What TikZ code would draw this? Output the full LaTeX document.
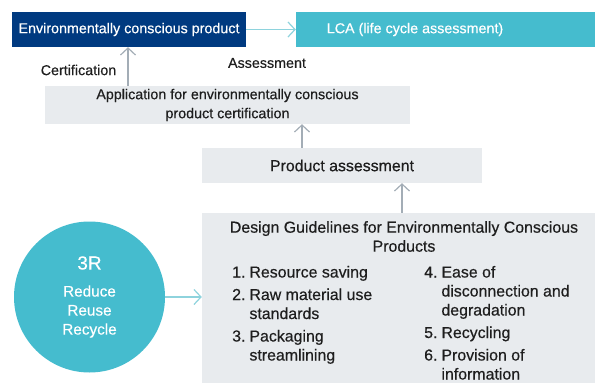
\documentclass[tikz,border=0pt]{standalone}
\usepackage{fontspec}
\setmainfont{Liberation Sans}
\newfontfamily\diagfont{Liberation Sans}[FakeBold=0.4]
\usetikzlibrary{arrows.meta}

\definecolor{envblue}{HTML}{003A80}
\definecolor{lcateal}{HTML}{45BCCE}
\definecolor{boxgrey}{HTML}{E8EBEE}
\definecolor{arrgrey}{HTML}{A3ADB6}
\definecolor{arrteal}{HTML}{8ED3DD}
\definecolor{txtdark}{HTML}{1E1E1E}

\begin{document}
\begin{tikzpicture}[x=1pt, y=-1pt,
	box/.style={rectangle, inner sep=0pt, font=\diagfont\fontsize{14.3}{19}\selectfont},
	greybox/.style={box, fill=boxgrey, text=txtdark},
	label/.style={font=\diagfont\fontsize{14.3}{19}\selectfont, text=txtdark, inner sep=0pt},
	biglabel/.style={label, font=\diagfont\fontsize{15.9}{19}\selectfont},
	uparrow/.style={-{Straight Barb[length=7pt, width=15pt]}, line width=1.2pt, draw=arrgrey},
	sidearrow/.style={uparrow, draw=arrteal}]
	\useasboundingbox (0,0) rectangle (595,383);
	% top row
	\node[box, fill=envblue, text=white, minimum width=234pt, minimum height=35pt] (env) at (129,29.5) {Environmentally conscious product};
	\node[box, fill=lcateal, text=white, minimum width=299pt, minimum height=35pt] (lca) at (445.5,29.5) {LCA (life cycle assessment)\hspace*{61pt}};
	\node[label] (cert) at (78.5,70) {Certification};
	\node[label] (assess) at (267,63) {Assessment};
	% grey boxes
	\node[greybox, minimum width=365pt, minimum height=38pt, align=center] (appl) at (227.5,105) {Application for environmentally conscious\\product certification};
	\node[greybox, minimum width=280pt, minimum height=35pt, font=\diagfont\fontsize{15.9}{19}\selectfont] (prod) at (342,165.5) {Product assessment};
	\node[greybox, minimum width=393pt, minimum height=170pt] (guide) at (398.5,298) {};
	\node[biglabel, align=center] (gtitle) at (404,236.5) {Design Guidelines for Environmentally Conscious\\Products};
	\node[biglabel, anchor=base west] (gleft) at (232,277.5) {%
		\begin{tabular}[t]{@{}r@{\hspace{4pt}}l@{}}
			1.&Resource saving\\[3.5pt]
			2.&Raw material use\\
			  &standards\\[3.5pt]
			3.&Packaging\\
			  &streamlining
		\end{tabular}};
	\node[biglabel, anchor=base west] (gright) at (424,277.5) {%
		\begin{tabular}[t]{@{}r@{\hspace{4pt}}l@{}}
			4.&Ease of\\
			  &disconnection and\\
			  &degradation\\[3.5pt]
			5.&Recycling\\[3.5pt]
			6.&Provision of\\
			  &information
		\end{tabular}};
	% 3R circle
	\node[circle, fill=lcateal, text=white, minimum size=151pt, inner sep=0pt, align=center, font=\diagfont\fontsize{15.3}{19}\selectfont] (rrr) at (89.5,297) {{\fontsize{19}{22}\selectfont 3R}\\[8pt]Reduce\\Reuse\\Recycle};
	% connectors
	\draw[sidearrow] (env.east) -- (lca.west);
	\draw[uparrow] (appl.north -| 128,0) -- (env.south -| 128,0);
	\draw[uparrow] (prod.north -| 302,0) -- (appl.south -| 302,0);
	\draw[uparrow] (guide.north -| 402,0) -- (prod.south -| 402,0);
	\draw[sidearrow] (rrr.east) -- (rrr.east -| guide.west);
\end{tikzpicture}
\end{document}
